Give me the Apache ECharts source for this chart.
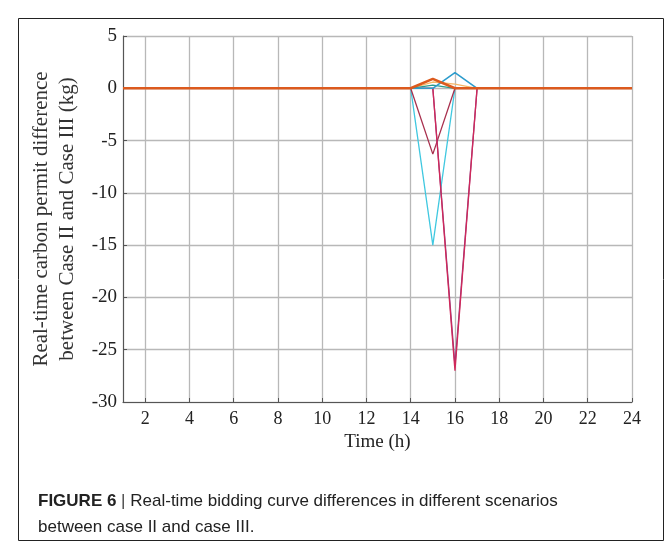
<!DOCTYPE html>
<html>
<head>
<meta charset="utf-8">
<script src="https://cdn.jsdelivr.net/npm/echarts@6/dist/echarts.min.js"></script>
<style>
  html, body { margin: 0; padding: 0; background: #fff; }
  #chart { width: 664px; height: 542px; }
</style>
</head>
<body>
<div id="chart"></div>
<script>
// hours 1..24
const hours = [1, 2, 3, 4, 5, 6, 7, 8, 9, 10, 11, 12, 13, 14, 15, 16, 17, 18, 19, 20, 21, 22, 23, 24]
const xTicks = [2, 4, 6, 8, 10, 12, 14, 16, 18, 20, 22, 24]

// scenario curves (difference, kg)
const cyanVals    = [0, 0, 0, 0, 0, 0, 0, 0, 0, 0, 0, 0, 0, 0, -15, 0, 0, 0, 0, 0, 0, 0, 0, 0]
const crimsonVals = [0, 0, 0, 0, 0, 0, 0, 0, 0, 0, 0, 0, 0, 0, -6.3, 0, 0, 0, 0, 0, 0, 0, 0, 0]
const magentaVals = [0, 0, 0, 0, 0, 0, 0, 0, 0, 0, 0, 0, 0, 0, 0, -27, 0, 0, 0, 0, 0, 0, 0, 0]
const purpleVals  = [0, 0, 0, 0, 0, 0, 0, 0, 0, 0, 0, 0, 0, 0, 0, -26.5, 0, 0, 0, 0, 0, 0, 0, 0]
const blueVals    = [0, 0, 0, 0, 0, 0, 0, 0, 0, 0, 0, 0, 0, 0, 0, 1.5, 0, 0, 0, 0, 0, 0, 0, 0]
const amberVals   = [0, 0, 0, 0, 0, 0, 0, 0, 0, 0, 0, 0, 0, 0, 0.6, 0.4, 0, 0, 0, 0, 0, 0, 0, 0]
const tealVals    = [0, 0, 0, 0, 0, 0, 0, 0, 0, 0, 0, 0, 0, 0, 0.3, 0, 0, 0, 0, 0, 0, 0, 0, 0]
const orangeVals  = [0, 0, 0, 0, 0, 0, 0, 0, 0, 0, 0, 0, 0, 0, 0.9, 0, 0, 0, 0, 0, 0, 0, 0, 0]

const serif = '"Liberation Serif", "Times New Roman", serif'
const sans = '"Liberation Sans", Arial, sans-serif'

const mkLine = (vals, color, width) => {
  return {
    type: 'line',
    data: vals.map((v, i) => [hours[i], v]),
    symbol: 'none',
    lineStyle: { color: color, width: width },
    itemStyle: { color: color },
    animation: false
  }
}

const chart = echarts.init(document.getElementById('chart'))
const option = {
  backgroundColor: '#fff',
  animation: false,
  grid: { left: 123, right: 32, top: 36, bottom: 140 },
  xAxis: {
    type: 'value',
    min: 1,
    max: 24,
    name: 'Time (h)',
    nameLocation: 'middle',
    nameGap: 27,
    nameTextStyle: { fontFamily: serif, fontSize: 19, color: '#222' },
    axisLine: { onZero: false, lineStyle: { color: '#555', width: 1.2 } },
    axisTick: { inside: true, length: 4, lineStyle: { color: '#555' }, customValues: xTicks },
    axisLabel: { fontFamily: serif, fontSize: 18, color: '#222', margin: 8, customValues: xTicks },
    splitLine: { show: true, lineStyle: { color: '#b8b8b8', width: 1.3 } }
  },
  yAxis: {
    type: 'value',
    min: -30,
    max: 5,
    interval: 5,
    name: 'Real-time carbon permit difference\nbetween Case II and Case III (kg)',
    nameLocation: 'middle',
    nameGap: 43,
    nameTextStyle: { fontFamily: serif, fontSize: 21, color: '#333', lineHeight: 26 },
    axisLine: { show: true, lineStyle: { color: '#555', width: 1.2 } },
    axisTick: { show: true, inside: true, length: 4, lineStyle: { color: '#555' } },
    axisLabel: { fontFamily: serif, fontSize: 19, color: '#222', margin: 6 },
    splitLine: { show: true, lineStyle: { color: '#b8b8b8', width: 1.3 } }
  },
  series: [
    mkLine(cyanVals, '#40c8e0', 1.3),
    mkLine(crimsonVals, '#a8304e', 1.3),
    mkLine(purpleVals, '#8a3c80', 1.3),
    mkLine(magentaVals, '#d0285a', 1.3),
    mkLine(amberVals, '#f5b868', 1.3),
    mkLine(tealVals, '#2a9a8a', 1.3),
    mkLine(blueVals, '#2e9ccc', 1.6),
    mkLine(orangeVals, '#dc5a1e', 2.6)
  ],
  graphic: [
    {
      type: 'rect',
      shape: { x: 18.5, y: 18.5, width: 645, height: 522 },
      style: { fill: 'none', stroke: '#222', lineWidth: 1 },
      silent: true
    },
    {
      type: 'text',
      left: 38,
      top: 488,
      style: {
        text: '{b|FIGURE 6} {s||} Real-time bidding curve differences in different scenarios\nbetween case II and case III.',
        fontFamily: sans,
        fontSize: 17,
        lineHeight: 26,
        fill: '#222',
        rich: {
          b: { fontWeight: 'bold', fontSize: 17, fontFamily: sans, fill: '#222' },
          s: { fontSize: 17, fill: '#444', fontFamily: sans }
        }
      }
    }
  ]
}
chart.setOption(option)
</script>
</body>
</html>
